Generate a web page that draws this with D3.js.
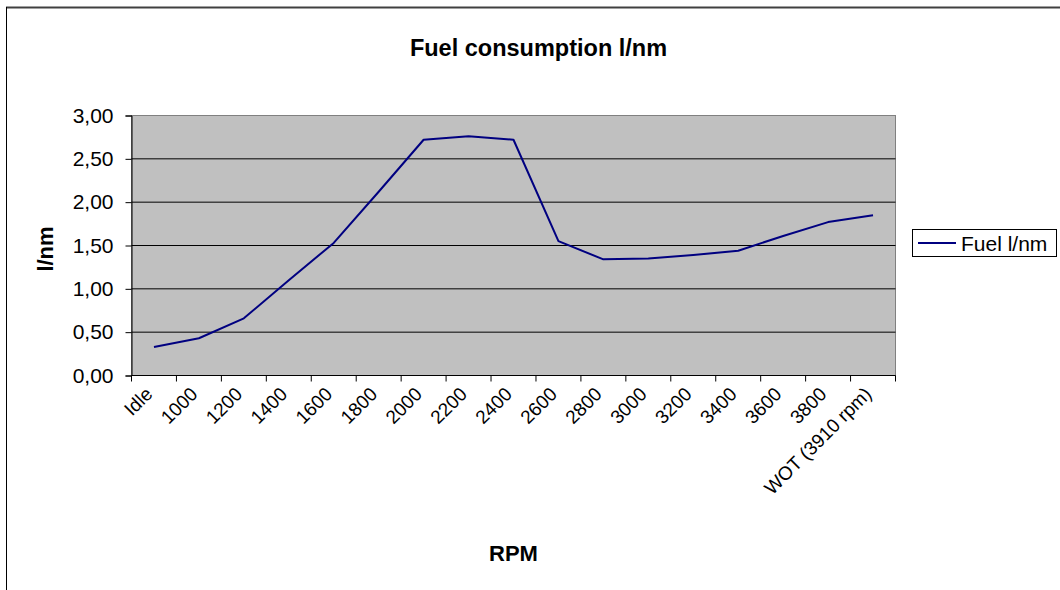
<!DOCTYPE html>
<html><head><meta charset="utf-8">
<script src="https://cdn.jsdelivr.net/npm/d3@7"></script>
<style>
html,body{margin:0;padding:0;background:#fff;}
svg{display:block;font-family:Arial,"Liberation Sans",sans-serif;}
</style></head>
<body>
<svg id="chart" width="1060" height="590"></svg>
<script>
const categories = ["Idle","1000","1200","1400","1600","1800","2000","2200","2400","2600","2800","3000","3200","3400","3600","3800","WOT (3910 rpm)"];
const fuelValues = [0.33,0.43,0.66,1.10,1.53,2.12,2.72,2.76,2.72,1.55,1.34,1.35,1.39,1.44,1.61,1.77,1.85];
const yTicks = [0,0.5,1,1.5,2,2.5,3];
const seriesName = "Fuel l/nm";
const titleText = "Fuel consumption l/nm";
const xTitle = "RPM";
const yTitle = "l/nm";

const svg = d3.select("#chart");
const L = 131.5, R = 895.5, T = 115.5, B = 375.5;

// outer border
svg.append("line").attr("x1",6).attr("x2",1060).attr("y1",7.5).attr("y2",7.5).attr("stroke","#404040").attr("stroke-width",2);
svg.append("line").attr("x1",6.5).attr("x2",6.5).attr("y1",7).attr("y2",590).attr("stroke","#000").attr("stroke-width",1);

const x = d3.scaleBand().domain(categories).range([L,R]).padding(0);
const y = d3.scaleLinear().domain([0,3]).range([B,T]);

// plot area
svg.append("rect").attr("x",L).attr("y",T).attr("width",R-L).attr("height",B-T)
  .attr("fill","#C0C0C0").attr("stroke","#808080").attr("stroke-width",1);

// gridlines
svg.append("g").selectAll("line").data(yTicks.filter(d=>d>0 && d<3)).join("line")
  .attr("x1",L).attr("x2",R).attr("y1",d=>y(d)).attr("y2",d=>y(d))
  .attr("stroke","#000").attr("stroke-width",1);

// y axis
const yAxis = svg.append("g").attr("transform",`translate(${L},0)`)
  .call(d3.axisLeft(y).tickValues(yTicks).tickSize(6).tickPadding(12)
    .tickFormat(d=>d.toFixed(2).replace(".",",")));
yAxis.select(".domain").attr("stroke","#000");
yAxis.selectAll(".tick line").attr("stroke","#000");
yAxis.selectAll("text").attr("font-size","21px").attr("fill","#000").attr("font-family","Arial, 'Liberation Sans', sans-serif");

// x axis: line and boundary ticks
svg.append("line").attr("x1",L).attr("x2",R).attr("y1",B).attr("y2",B).attr("stroke","#000");
const bounds = categories.map(c=>x(c)).concat([R]);
svg.append("g").selectAll("line").data(bounds).join("line")
  .attr("x1",d=>d).attr("x2",d=>d).attr("y1",B).attr("y2",B+6).attr("stroke","#000");

// x labels
svg.append("g").selectAll("text").data(categories).join("text")
  .attr("transform",d=>`translate(${x(d)+x.bandwidth()/2-5},${B+15}) rotate(-45)`)
  .attr("text-anchor","end").attr("dy","0.35em")
  .attr("font-size","19px").attr("fill","#000")
  .text(d=>d);

// line
const line = d3.line().x((d,i)=>x(categories[i])+x.bandwidth()/2).y(d=>y(d));
svg.append("path").datum(fuelValues).attr("d",line)
  .attr("fill","none").attr("stroke","#000080").attr("stroke-width",2).attr("stroke-linejoin","round");

// title
svg.append("text").attr("x",538.5).attr("y",56).attr("text-anchor","middle")
  .attr("font-size","23.5px").attr("font-weight","bold").text(titleText);
// axis titles
svg.append("text").attr("x",(L+R)/2).attr("y",561).attr("text-anchor","middle")
  .attr("font-size","22px").attr("font-weight","bold").text(xTitle);
svg.append("text").attr("transform","translate(53,249) rotate(-90)").attr("text-anchor","middle")
  .attr("font-size","22px").attr("font-weight","bold").text(yTitle);

// legend
const lg = svg.append("g");
lg.append("rect").attr("x",912.5).attr("y",229.5).attr("width",144).attr("height",27)
  .attr("fill","#fff").attr("stroke","#000");
lg.append("line").attr("x1",918).attr("x2",956).attr("y1",243).attr("y2",243).attr("stroke","#000080").attr("stroke-width",2);
lg.append("text").attr("x",961).attr("y",250.5).attr("font-size","21px").text(seriesName);
</script>
</body></html>
